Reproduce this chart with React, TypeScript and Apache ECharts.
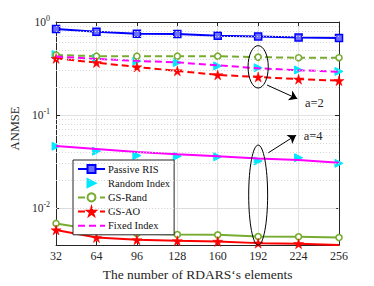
import React, { useEffect, useRef } from 'react';
import * as echarts from 'echarts';

// ---------- data ----------
const elements = [32, 64, 96, 128, 160, 192, 224, 256];
const passiveRIS = [0.843, 0.784, 0.746, 0.741, 0.711, 0.699, 0.682, 0.672];
// a = 2
const randomIndexA2 = [0.447, 0.406, 0.38, 0.366, 0.337, 0.322, 0.305, 0.294];
const fixedIndexA2 = [0.426, 0.401, 0.382, 0.368, 0.342, 0.318, 0.303, 0.292];
const gsRandA2 = [0.442, 0.429, 0.429, 0.429, 0.429, 0.419, 0.413, 0.413];
const gsAOA2 = [0.406, 0.366, 0.328, 0.298, 0.27, 0.256, 0.243, 0.234];
// a = 4
const randomIndexA4 = [0.0461, 0.0408, 0.0366, 0.0361, 0.0355, 0.032, 0.0347, 0.0302];
const fixedIndexA4 = [0.0464, 0.0431, 0.0401, 0.0379, 0.0361, 0.0341, 0.0328, 0.0307];
const gsRandA4 = [0.00682, 0.00581, 0.00531, 0.00518, 0.00514, 0.00493, 0.0049, 0.00481];
const gsAOA4 = [0.00581, 0.00481, 0.00455, 0.00444, 0.00437, 0.00419, 0.00413, 0.00399];

const xTicks = { min: 32, max: 256, step: 32 };
const yRange = { min: 0.004, max: 1 };
const minorGridValues = [
  0.005, 0.006, 0.007, 0.008, 0.009,
  0.02, 0.03, 0.04, 0.05, 0.06, 0.07, 0.08, 0.09,
  0.2, 0.3, 0.4, 0.5, 0.6, 0.7, 0.8, 0.9,
];
const legendNames = ['Passive RIS', 'Random Index', 'GS-Rand', 'GS-AO', 'Fixed Index'];

// annotations (data coordinates)
const ellipses = [
  { x: 192, halfWidth: 8, top: 0.557, bottom: 0.195 },
  { x: 192, halfWidth: 7.5, top: 0.0475, bottom: 0.00398 },
];
const arrows = [
  { from: [199, 0.21], to: [223, 0.1496] },
  { from: [200, 0.0392], to: [222, 0.0607] },
];
const labels = [
  { text: 'a=2', x: 229, y: 0.1356 },
  { text: 'a=4', x: 228, y: 0.0592 },
];

const FONT = '"Liberation Serif", "Times New Roman", serif';
const BLUE = '#0000ff';
const CYAN = '#00e8ff';
const GREEN = '#77ac30';
const RED = '#ff0000';
const MAGENTA = '#ff00ff';
const STAR = 'path://M50,0 L61,35 L98,35 L68,57 L79,91 L50,70 L21,91 L32,57 L2,35 L39,35 Z';

const pairs = (ys: number[]) => elements.map((x, i) => [x, ys[i]]);

export default function App() {
  const ref = useRef<HTMLDivElement>(null);
  useEffect(() => {
    if (!ref.current) return;
    const chart = echarts.init(ref.current, null, { renderer: 'svg' });

    const dash = [7, 4];
    const option: any = {
      animation: false,
      backgroundColor: '#fff',
      grid: { left: 48, right: 35, top: 22, bottom: 37, containLabel: false },
      xAxis: [
        {
          type: 'value',
          min: xTicks.min,
          max: xTicks.max,
          interval: xTicks.step,
          name: "The number of RDARS‘s elements",
          nameLocation: 'middle',
          nameGap: 22,
          nameTextStyle: { fontFamily: FONT, fontSize: 13.5, color: '#262626' },
          axisLine: { lineStyle: { color: '#262626', width: 1 } },
          axisTick: { inside: true, length: 4, lineStyle: { color: '#262626' } },
          axisLabel: { fontFamily: FONT, fontSize: 12, color: '#262626', margin: 5 },
          splitLine: { show: true, lineStyle: { color: '#e2e2e2', width: 1 } },
        },
        {
          type: 'value',
          position: 'top',
          min: xTicks.min,
          max: xTicks.max,
          interval: xTicks.step,
          axisLine: { lineStyle: { color: '#262626', width: 1 } },
          axisTick: { inside: true, length: 4, lineStyle: { color: '#262626' } },
          axisLabel: { show: false },
          splitLine: { show: false },
        },
      ],
      yAxis: [
        {
          type: 'log',
          logBase: 10,
          min: yRange.min,
          max: yRange.max,
          name: 'ANMSE',
          nameLocation: 'middle',
          nameGap: 31,
          nameTextStyle: { fontFamily: FONT, fontSize: 12.5, color: '#262626', padding: [0, 0, 0, 10] },
          axisLine: { show: true, lineStyle: { color: '#262626', width: 1 } },
          axisTick: { inside: true, length: 4, lineStyle: { color: '#262626' } },
          axisLabel: {
            margin: 6,
            color: '#262626',
            formatter: (v: number) => {
              const e = Math.log10(v);
              const r = Math.round(e);
              if (Math.abs(e - r) > 1e-6) return '';
              return `{b|10}{s|${r}}`;
            },
            rich: {
              b: { fontFamily: FONT, fontSize: 11.5, color: '#262626' },
              s: { fontFamily: FONT, fontSize: 8, color: '#262626', padding: [0, 0, 7, 0] },
            },
          },
          splitLine: { show: true, lineStyle: { color: '#e2e2e2', width: 1 } },
        },
        {
          type: 'log',
          logBase: 10,
          min: yRange.min,
          max: yRange.max,
          position: 'right',
          axisLine: { show: true, lineStyle: { color: '#262626', width: 1 } },
          axisTick: { inside: true, length: 4, lineStyle: { color: '#262626' } },
          axisLabel: { show: false },
          splitLine: { show: false },
        },
      ],
      legend: {
        data: legendNames.map((n) =>
          n === 'Fixed Index' ? { name: n, itemStyle: { opacity: 0 } } : { name: n }
        ),
        orient: 'vertical',
        left: 73,
        top: 160,
        itemWidth: 27,
        itemHeight: 10,
        itemGap: 3.2,
        padding: [3.5, 4, 3.5, 4],
        backgroundColor: '#fff',
        borderColor: '#262626',
        borderWidth: 1,
        borderRadius: 0,
        textStyle: { fontFamily: FONT, fontSize: 10.5, color: '#111', padding: [0, 0, 0, -2] },
      },
      series: [
        {
          name: 'helper',
          type: 'line',
          data: [],
          z: 1,
          silent: true,
          markLine: {
            silent: true,
            symbol: 'none',
            label: { show: false },
            lineStyle: { color: '#d6d6d6', type: [1, 2], width: 1 },
            data: minorGridValues.map((v) => ({ yAxis: v })),
          },
        },
        {
          name: 'arrows',
          type: 'line',
          data: [],
          z: 6,
          silent: true,
          markLine: {
            silent: true,
            symbol: ['none', 'arrow'],
            symbolSize: 8,
            label: { show: false },
            lineStyle: { color: '#000', type: 'solid', width: 1 },
            data: arrows.map((a) => [{ coord: a.from }, { coord: a.to }]),
          },
        },
        {
          name: 'Passive RIS',
          type: 'line',
          data: pairs(passiveRIS),
          symbol: 'rect',
          symbolSize: 7,
          lineStyle: { color: BLUE, width: 2 },
          itemStyle: { color: '#6f6fff', borderColor: BLUE, borderWidth: 1.5 },
          z: 3,
        },
        {
          name: 'Random Index',
          type: 'line',
          data: pairs(randomIndexA2),
          symbol: 'triangle',
          symbolRotate: -90,
          symbolSize: 8,
          lineStyle: { opacity: 0, width: 0 },
          itemStyle: { color: CYAN, borderColor: CYAN, borderWidth: 1 },
          z: 3,
        },
        {
          name: 'Random Index',
          type: 'line',
          data: pairs(randomIndexA4),
          symbol: 'triangle',
          symbolRotate: -90,
          symbolSize: 8,
          lineStyle: { opacity: 0, width: 0 },
          itemStyle: { color: CYAN, borderColor: CYAN, borderWidth: 1 },
          z: 3,
        },
        {
          name: 'GS-Rand',
          type: 'line',
          data: pairs(gsRandA2),
          symbol: 'circle',
          symbolSize: 6,
          lineStyle: { color: GREEN, width: 2, type: dash },
          itemStyle: { color: '#fff', borderColor: GREEN, borderWidth: 1.6 },
          z: 3,
        },
        {
          name: 'GS-Rand',
          type: 'line',
          data: pairs(gsRandA4),
          symbol: 'circle',
          symbolSize: 6,
          lineStyle: { color: GREEN, width: 2 },
          itemStyle: { color: '#fff', borderColor: GREEN, borderWidth: 1.6 },
          z: 3,
        },
        {
          name: 'GS-AO',
          type: 'line',
          data: pairs(gsAOA2),
          symbol: STAR,
          symbolSize: 10,
          lineStyle: { color: RED, width: 2, type: dash },
          itemStyle: { color: RED, borderColor: RED, borderWidth: 0.5 },
          z: 3,
        },
        {
          name: 'GS-AO',
          type: 'line',
          data: pairs(gsAOA4),
          symbol: STAR,
          symbolSize: 10,
          lineStyle: { color: RED, width: 2 },
          itemStyle: { color: RED, borderColor: RED, borderWidth: 0.5 },
          z: 3,
        },
        {
          name: 'Fixed Index',
          type: 'line',
          data: pairs(fixedIndexA2),
          symbol: 'none',
          lineStyle: { color: MAGENTA, width: 2, type: dash },
          itemStyle: { color: MAGENTA },
          z: 4,
        },
        {
          name: 'Fixed Index',
          type: 'line',
          data: pairs(fixedIndexA4),
          symbol: 'none',
          lineStyle: { color: MAGENTA, width: 2 },
          itemStyle: { color: MAGENTA },
          z: 4,
        },
      ],
    };
    chart.setOption(option);

    const px = (x: number, y: number) => chart.convertToPixel({ gridIndex: 0 }, [x, y]) as number[];
    const graphic: any[] = [];
    ellipses.forEach((e) => {
      const t = px(e.x, e.top);
      const b = px(e.x, e.bottom);
      const r = px(e.x + e.halfWidth, e.top);
      graphic.push({
        type: 'ellipse',
        shape: { cx: t[0], cy: (t[1] + b[1]) / 2, rx: r[0] - t[0], ry: (b[1] - t[1]) / 2 },
        style: { fill: 'none', stroke: '#000', lineWidth: 1 },
        z: 10,
        silent: true,
      });
    });
    labels.forEach((l) => {
      const p = px(l.x, l.y);
      graphic.push({
        type: 'text',
        x: p[0],
        y: p[1],
        style: { text: l.text, fontFamily: FONT, fontSize: 12.5, fill: '#262626', verticalAlign: 'middle', align: 'left' },
        z: 10,
        silent: true,
      });
    });
    chart.setOption({ graphic });

    return () => chart.dispose();
  }, []);
  return <div ref={ref} style={{ width: 374, height: 286, position: 'absolute', left: 0, top: 0 }} />;
}
